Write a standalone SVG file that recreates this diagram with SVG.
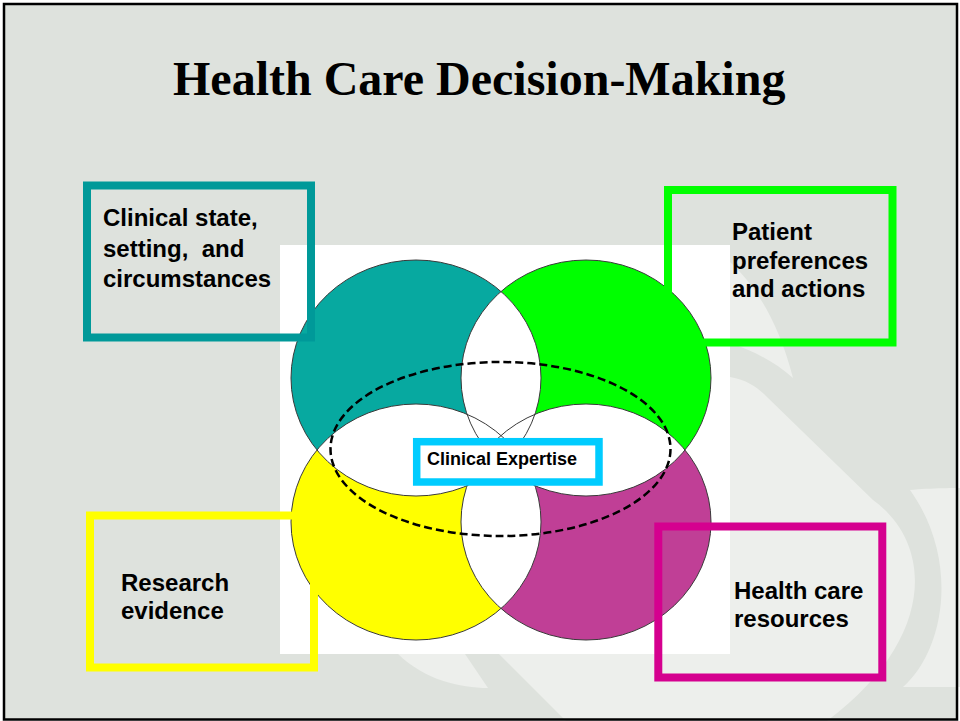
<svg xmlns="http://www.w3.org/2000/svg" width="960" height="721" viewBox="0 0 960 721">
<style>
.lbl{font-family:"Liberation Sans",Arial,sans-serif;font-weight:bold;font-size:24px;fill:#000}
.box{fill:none;stroke-width:8}
.outline{fill:none;stroke:#3a3a3a;stroke-width:1}
.light{fill:#EDEFEC}
</style>
<defs>
 <mask id="mTL" maskUnits="userSpaceOnUse" x="0" y="0" width="960" height="721">
  <rect width="960" height="721" fill="#fff"/>
  <ellipse cx="586" cy="378" rx="125" ry="118" fill="#000"/>
  <ellipse cx="416" cy="522" rx="125" ry="118" fill="#000"/>
  <ellipse cx="586" cy="522" rx="125" ry="118" fill="#000"/>
 </mask>
 <mask id="mTR" maskUnits="userSpaceOnUse" x="0" y="0" width="960" height="721">
  <rect width="960" height="721" fill="#fff"/>
  <ellipse cx="416" cy="378" rx="125" ry="118" fill="#000"/>
  <ellipse cx="416" cy="522" rx="125" ry="118" fill="#000"/>
  <ellipse cx="586" cy="522" rx="125" ry="118" fill="#000"/>
 </mask>
 <mask id="mBL" maskUnits="userSpaceOnUse" x="0" y="0" width="960" height="721">
  <rect width="960" height="721" fill="#fff"/>
  <ellipse cx="416" cy="378" rx="125" ry="118" fill="#000"/>
  <ellipse cx="586" cy="378" rx="125" ry="118" fill="#000"/>
  <ellipse cx="586" cy="522" rx="125" ry="118" fill="#000"/>
 </mask>
 <mask id="mBR" maskUnits="userSpaceOnUse" x="0" y="0" width="960" height="721">
  <rect width="960" height="721" fill="#fff"/>
  <ellipse cx="416" cy="378" rx="125" ry="118" fill="#000"/>
  <ellipse cx="586" cy="378" rx="125" ry="118" fill="#000"/>
  <ellipse cx="416" cy="522" rx="125" ry="118" fill="#000"/>
 </mask>
</defs>

<g id="background">
 <rect x="0" y="0" width="960" height="721" fill="#fff"/>
 <rect x="4" y="4" width="953" height="715.5" fill="#DEE2DD"/>
 <path class="light" d="M730,262 C752,282 778,318 793,378 C775,362 752,350 730,343 Z"/>
 <path class="light" d="M730,377 C748,380 758,388 767,397 L873,500 C935,545 935,640 827,721 L566,721 L499,654 L730,654 Z"/>
 <path class="light" d="M910,490 C930,488 960,488 960,488 L960,687 L903,687 C945,650 960,560 910,490 Z"/>
 <path class="light" d="M398,654 L465,654 L488,688 C460,688 425,680 398,654 Z"/>
 <rect x="280" y="245" width="450" height="409" fill="#fff"/>
</g>

<g id="title">
 <text x="173" y="95" font-family="'Liberation Serif','Times New Roman',serif" font-weight="bold" font-size="48" fill="#000">Health Care Decision-Making</text>
</g>

<g id="venn">
 <ellipse cx="416" cy="378" rx="125" ry="118" fill="#07A9A0" mask="url(#mTL)"/>
 <ellipse cx="586" cy="378" rx="125" ry="118" fill="#00FF00" mask="url(#mTR)"/>
 <ellipse cx="416" cy="522" rx="125" ry="118" fill="#FFFF00" mask="url(#mBL)"/>
 <ellipse cx="586" cy="522" rx="125" ry="118" fill="#C03F96" mask="url(#mBR)"/>
 <ellipse class="outline" cx="416" cy="378" rx="125" ry="118"/>
 <ellipse class="outline" cx="586" cy="378" rx="125" ry="118"/>
 <ellipse class="outline" cx="416" cy="522" rx="125" ry="118"/>
 <ellipse class="outline" cx="586" cy="522" rx="125" ry="118"/>
 <ellipse cx="500.5" cy="449" rx="170" ry="87" fill="none" stroke="#000" stroke-width="2.5" stroke-dasharray="8 4"/>
</g>

<g id="connectors"></g>

<g id="node-clinical-state">
 <rect class="box" x="87" y="185.5" width="224" height="152" stroke="#009999"/>
 <text class="lbl" x="103" y="226">Clinical state,</text>
 <text class="lbl" x="103" y="256.5" xml:space="preserve">setting,  and</text>
 <text class="lbl" x="103" y="287">circumstances</text>
</g>

<g id="node-patient-preferences">
 <rect class="box" x="668" y="190" width="224.5" height="152.5" stroke="#00FF00"/>
 <text class="lbl" x="732" y="240">Patient</text>
 <text class="lbl" x="732" y="268.5">preferences</text>
 <text class="lbl" x="732" y="297">and actions</text>
</g>

<g id="node-research-evidence">
 <rect class="box" x="90" y="515.5" width="224" height="152" stroke="#FFFF00"/>
 <text class="lbl" x="121" y="591">Research</text>
 <text class="lbl" x="121" y="618.5">evidence</text>
</g>

<g id="node-health-care-resources">
 <rect class="box" x="658.3" y="526.5" width="224" height="151" stroke="#D5008F"/>
 <text class="lbl" x="734" y="598.5">Health care</text>
 <text class="lbl" x="734" y="627">resources</text>
</g>

<g id="node-clinical-expertise">
 <rect x="416.7" y="441.7" width="182.3" height="40.3" fill="#fff" stroke="#00CCFF" stroke-width="7.5"/>
 <text x="427" y="465" font-family="'Liberation Sans',Arial,sans-serif" font-weight="bold" font-size="18" fill="#000">Clinical Expertise</text>
</g>

<g id="frame">
 <rect x="4" y="4" width="953" height="715.5" fill="none" stroke="#000" stroke-width="2.5"/>
</g>
</svg>
